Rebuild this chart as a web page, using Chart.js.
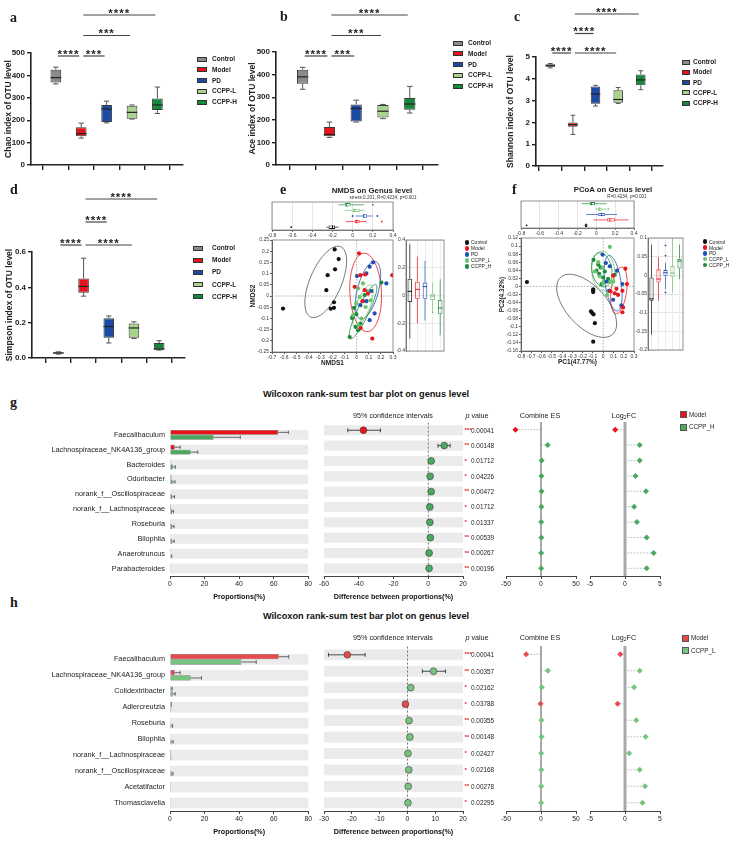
<!DOCTYPE html>
<html>
<head>
<meta charset="utf-8">
<title>Alpha diversity, ordination and Wilcoxon tests</title>
<script src="https://cdn.jsdelivr.net/npm/chart.js@4.4.1/dist/chart.umd.min.js"></script>
<style>
  html, body { margin: 0; padding: 0; background: #fff; }
  body { position: relative; width: 729px; height: 844px; overflow: hidden; font-family: "Liberation Sans", Arial, sans-serif; color: #1a1a1a; }
  canvas { position: absolute; }
  .t { position: absolute; white-space: nowrap; line-height: 1.2; }
  .sw { position: absolute; box-sizing: border-box; }
  .let { position: absolute; font-family: "Liberation Serif", "Times New Roman", serif; font-weight: bold; font-size: 14px; line-height: 1; }
  sub { font-size: 70%; vertical-align: -1px; line-height: 0; }
</style>
</head>
<body>
<script>
// ---------- data: alpha diversity (a-d) ----------
const boxGroups = ['Control', 'Model', 'PD', 'CCPP-L', 'CCPP-H'];
const boxColors = ['#8b8b8b', '#e8141c', '#1d4aa3', '#a8d48e', '#15883d'];

// [min, q1, median, q3, max]
const chaoStats = [[362, 368, 390, 425, 437], [120, 128, 140, 168, 187], [188, 192, 250, 268, 285], [205, 207, 235, 265, 268], [230, 245, 268, 297, 348]];
const aceStats = [[335, 360, 390, 422, 432], [122, 127, 135, 168, 190], [190, 192, 250, 268, 287], [205, 210, 238, 265, 268], [230, 245, 270, 297, 348]];
const shannonStats = [[4.5, 4.55, 4.6, 4.67, 4.7], [1.45, 1.8, 1.9, 2.0, 2.33], [2.75, 2.85, 3.3, 3.65, 3.7], [2.87, 2.9, 3.05, 3.48, 3.6], [3.5, 3.7, 3.95, 4.2, 4.37]];
const simpsonStats = [[0.022, 0.025, 0.028, 0.032, 0.035], [0.35, 0.37, 0.405, 0.45, 0.565], [0.085, 0.115, 0.178, 0.225, 0.238], [0.11, 0.115, 0.17, 0.195, 0.205], [0.045, 0.05, 0.05, 0.085, 0.098]];

const sigLevels = [0, 0, 1, 2];
const chaoPairs = [[0, 1], [1, 2], [1, 3], [1, 4]];
const chaoStars = ['****', '***', '***', '****'];
const acePairs = [[0, 1], [1, 2], [1, 3], [1, 4]];
const aceStars = ['****', '***', '***', '****'];
const shannonPairs = [[0, 1], [1, 3], [1, 2], [1, 4]];
const shannonStars = ['****', '****', '****', '****'];
const simpsonPairs = [[0, 1], [1, 3], [1, 2], [1, 4]];
const simpsonStars = ['****', '****', '****', '****'];

// ---------- data: ordination (e, f) ----------
const ordGroups = ['Control', 'Model', 'PD', 'CCPP_L', 'CCPP_H'];
const ordColors = ['#111111', '#e8161d', '#2150b0', '#6cc46a', '#1c8a3c'];

const nmdsControl = [[-0.609, -0.056], [-0.182, 0.208], [-0.149, 0.165], [-0.179, 0.119], [-0.24, 0.093], [-0.251, 0.026], [-0.188, -0.028], [-0.215, -0.057], [-0.188, -0.053]];
const nmdsModel = [[0.019, 0.19], [0.294, 0.093], [0.03, 0.093], [0.069, 0.096], [-0.017, 0.041], [0.066, 0.026], [0.093, 0.011], [0.047, -0.023], [0.033, -0.143], [0.129, -0.19]];
const nmdsPD = [[0.135, 0.15], [0.107, 0.131], [0.08, 0.101], [0.002, 0.089], [0.245, 0.056], [0.121, 0.022], [0.03, -0.041], [0.08, -0.023], [0.148, -0.078], [0.107, -0.108]];
const nmdsLow = [[0.052, 0.056], [0.011, 0.034], [0.093, 0.022], [0.025, -0.004], [-0.003, -0.034], [0.074, -0.049], [0.115, -0.019], [0.038, -0.101], [0.016, -0.131], [-0.031, -0.086]];
const nmdsHigh = [[0.204, 0.06], [0.066, 0.004], [0.052, -0.023], [-0.022, -0.053], [-0.003, -0.081], [-0.039, -0.098], [-0.058, -0.183], [-0.009, -0.138], [0.011, -0.153], [0.03, -0.123]];
// [cx, cy, ax, ay, bx, by]
const nmdsEllipses = [[-0.256, 0.063, 0.124, 0.157, 0.12, -0.028], [0.074, 0.016, -0.02, 0.175, 0.13, 0.01], [0.093, 0.026, 0.068, 0.127, 0.08, -0.02], [0.052, -0.045, 0.069, 0.093, 0.05, -0.015], [0.052, -0.07, 0.11, 0.12, 0.035, -0.02]];
const nmdsTop = [[-0.26, -0.24, -0.2, -0.175, -0.14], [-0.07, 0.02, 0.04, 0.07, 0.14], [0.03, 0.1, 0.11, 0.14, 0.2], [-0.08, 0.0, 0.02, 0.07, 0.12], [-0.14, -0.08, -0.06, -0.02, 0.11]];
const nmdsTopOut = [[-0.61], [0.29], [0.0, 0.245], [], [0.2]];
const nmdsRight = [[-0.31, -0.047, 0.03, 0.121, 0.37], [-0.2, -0.023, 0.044, 0.1, 0.28], [-0.18, -0.023, 0.064, 0.093, 0.25], [-0.11, -0.032, -0.004, 0.013, 0.093], [-0.287, -0.131, -0.09, -0.032, 0.117]];
const nmdsRightOut = [[], [], [], [-0.12], []];

const pcoaControl = [[-0.742, 0.011], [-0.097, -0.007], [-0.097, -0.011], [-0.097, -0.014], [-0.119, -0.062], [-0.106, -0.066], [-0.094, -0.069], [-0.081, -0.091], [-0.097, -0.137]];
const pcoaModel = [[0.216, 0.044], [0.232, 0.006], [0.187, -0.011], [0.097, 0.027], [0.145, -0.021], [0.194, -0.052], [0.187, -0.064], [0.071, -0.012], [0.113, -0.017], [0.129, -0.006]];
const pcoaPD = [[-0.006, 0.079], [0.026, 0.058], [0.065, 0.05], [0.135, 0.039], [0.187, 0.006], [0.032, 0.012], [0.058, -0.011], [0.097, -0.033], [0.177, -0.047]];
const pcoaLow = [[0.065, 0.098], [-0.048, 0.06], [-0.081, 0.037], [-0.006, 0.046], [-0.032, 0.025], [0.006, 0.012], [0.065, 0.011], [0.039, -0.021], [0.0, 0.008], [0.097, 0.012]];
const pcoaHigh = [[-0.094, 0.066], [-0.048, 0.054], [-0.026, 0.047], [-0.065, 0.039], [0.016, 0.037], [-0.039, 0.031], [0.0, 0.022], [0.048, 0.019], [-0.016, 0.006], [0.113, 0.029]];
const pcoaEllipses = [[-0.161, -0.048, 0.274, -0.064, 0.1, 0.045], [0.153, -0.01, 0.04, 0.057, 0.07, -0.01], [0.097, 0.008, -0.064, 0.064, 0.06, 0.025], [0.0, 0.038, -0.024, 0.049, 0.11, 0.005], [-0.013, 0.041, 0.095, -0.02, 0.03, 0.037]];
const pcoaTop = [[-0.125, -0.12, -0.11, -0.095, -0.09], [-0.03, 0.11, 0.144, 0.197, 0.34], [-0.11, 0.02, 0.056, 0.09, 0.22], [-0.014, 0.02, 0.03, 0.056, 0.11], [-0.155, -0.067, -0.05, -0.014, 0.11]];
const pcoaTopOut = [[-0.74], [], [], [0.127], []];
const pcoaRight = [[-0.159, -0.068, -0.063, -0.006, 0.082], [-0.068, -0.019, -0.01, 0.016, 0.049], [-0.037, -0.001, 0.007, 0.014, 0.034], [-0.046, -0.004, 0.006, 0.025, 0.1], [-0.01, 0.018, 0.038, 0.044, 0.082]];
const pcoaRightOut = [[], [], [0.08, 0.053, -0.046], [], []];

// ---------- data: Wilcoxon (g, h) ----------
const gTaxa = ['Faecalibaculum', 'Lachnospiraceae_NK4A136_group', 'Bacteroides', 'Odoribacter', 'norank_f__Oscillospiraceae', 'norank_f__Lachnospiraceae', 'Roseburia', 'Bilophila', 'Anaerotruncus', 'Parabacteroides'];
const gModel = [62.5, 2.7, 0.5, 0.8, 0.3, 0.6, 0.4, 0.2, 0.1, 0.1];
const gModelErr = [68.5, 5.9, 0.8, 1.2, 0.5, 0.9, 0.6, 0.4, 0.2, 0.2];
const gTreat = [25.2, 11.9, 1.6, 1.5, 1.3, 1.1, 1.1, 1.3, 0.5, 0.4];
const gTreatErr = [40.7, 16.1, 3.1, 2.9, 2.6, 2.0, 2.3, 2.4, 1.0, 0.8];
const gDiff = [-37.3, 9.2, 1.7, 1.1, 1.7, 0.9, 0.9, 1.2, 0.5, 0.5];
const gCiLow = [-46.3, 5.6, 0.9, 0.4, 0.8, 0.3, 0.3, 0.5, 0.2, 0.2];
const gCiHigh = [-27.5, 12.6, 2.5, 1.9, 2.6, 1.5, 1.5, 1.9, 0.8, 0.8];
const gP = [0.00041, 0.00148, 0.01712, 0.04226, 0.00472, 0.01712, 0.01337, 0.00539, 0.00267, 0.00196];
const gES = [-36.5, 9.6, 0.9, 0.6, 0.8, 0.5, 0.4, 0.5, 0.3, 0.3];
const gFC = [-1.4, 2.1, 2.1, 1.5, 3.0, 1.3, 1.7, 3.1, 4.1, 3.1];

const hTaxa = ['Faecalibaculum', 'Lachnospiraceae_NK4A136_group', 'Colidextribacter', 'Adlercreutzia', 'Roseburia', 'Bilophila', 'norank_f__Lachnospiraceae', 'norank_f__Oscillospiraceae', 'Acetatifactor', 'Thomasclavelia'];
const hModel = [62.9, 2.7, 0.8, 1.1, 0.2, 0.2, 0.6, 0.3, 0.1, 0.1];
const hModelErr = [68.7, 5.9, 1.3, 1.5, 0.4, 0.4, 0.9, 0.5, 0.2, 0.2];
const hTreat = [41.3, 11.9, 1.6, 0.6, 0.8, 0.9, 0.8, 1.0, 0.5, 0.4];
const hTreatErr = [49.9, 18.2, 3.0, 0.9, 1.5, 1.8, 1.2, 1.7, 0.9, 0.7];
const hDiff = [-21.6, 9.4, 1.2, -0.7, 0.6, 0.9, 0.2, 0.5, 0.3, 0.2];
const hCiLow = [-28.4, 5.4, 0.5, -1.1, 0.2, 0.4, 0.0, 0.2, 0.1, 0.0];
const hCiHigh = [-15.2, 13.7, 1.9, -0.3, 1.0, 1.4, 0.4, 0.8, 0.5, 0.4];
const hP = [0.00041, 0.00357, 0.02162, 0.03788, 0.00355, 0.00148, 0.02427, 0.02168, 0.00278, 0.02295];
const hES = [-21.2, 9.9, 1.2, -0.6, 0.6, 0.9, 0.3, 0.5, 0.3, 0.3];
const hFC = [-0.67, 2.1, 1.3, -1.05, 1.6, 2.95, 0.6, 2.1, 2.86, 2.5];

// ---------- setup ----------
Chart.defaults.animation = false;
Chart.defaults.responsive = false;
Chart.defaults.devicePixelRatio = 1;
Chart.defaults.font.family = '"Liberation Sans", Arial, sans-serif';
Chart.defaults.color = '#222';
Chart.defaults.plugins.legend.display = false;
Chart.defaults.plugins.tooltip.enabled = false;

const FONT = '"Liberation Sans", Arial, sans-serif';
const num = v => String(+v.toFixed(4));

function makeCanvas(left, top, w, h) {
    const c = document.createElement('canvas');
    c.width = w; c.height = h;
    c.style.left = left + 'px'; c.style.top = top + 'px';
    c.style.width = w + 'px'; c.style.height = h + 'px';
    document.body.appendChild(c);
    return c;
}

function label(html, x, y, css, center) {
    const d = document.createElement('div');
    d.className = 't';
    d.innerHTML = html;
    d.style.cssText += css || '';
    d.style.left = x + 'px'; d.style.top = y + 'px';
    d.style.transform = center ? 'translate(-50%,-50%)' : 'translate(0,-50%)';
    document.body.appendChild(d);
}

function swatch(x, y, w, h, fill, border, round) {
    const d = document.createElement('div');
    d.className = 'sw';
    d.style.cssText += `left:${x}px;top:${y}px;width:${w}px;height:${h}px;background:${fill};` +
        (border ? `border:0.8px solid ${border};` : '') + (round ? 'border-radius:50%;' : '');
    document.body.appendChild(d);
}

function letter(ch, x, baseline) {
    const d = document.createElement('div');
    d.className = 'let';
    d.textContent = ch;
    d.style.left = x + 'px';
    d.style.top = (baseline - 11.7) + 'px';
    document.body.appendChild(d);
}

// box whiskers + median + outliers drawn on top of floating bars
function whiskers(stats, w) {
    return {
        id: 'whiskers',
        afterDatasetsDraw(chart) {
            const ctx = chart.ctx;
            const bars = chart.getDatasetMeta(0).data;
            const horiz = chart.options.indexAxis === 'y';
            const vs = horiz ? chart.scales.x : chart.scales.y;
            ctx.save();
            const seg = (a1, b1, a2, b2) => {
                ctx.beginPath();
                if (horiz) { ctx.moveTo(b1, a1); ctx.lineTo(b2, a2); } else { ctx.moveTo(a1, b1); ctx.lineTo(a2, b2); }
                ctx.stroke();
            };
            stats.forEach((s, i) => {
                const b = bars[i];
                const c = horiz ? b.y : b.x;
                const half = (horiz ? b.height : b.width) / 2;
                const p = s.map(v => vs.getPixelForValue(v));
                const col = w.colors ? w.colors[i] : w.color;
                ctx.strokeStyle = col; ctx.lineWidth = w.lw;
                seg(c, p[0], c, p[1]);
                seg(c, p[3], c, p[4]);
                const cap = half * w.cap;
                if (cap > 0) { seg(c - cap, p[0], c + cap, p[0]); seg(c - cap, p[4], c + cap, p[4]); }
                ctx.strokeStyle = w.medColors ? w.medColors[i] : w.medColor;
                ctx.lineWidth = w.medLw;
                seg(c - half, p[2], c + half, p[2]);
                ctx.fillStyle = col;
                ((w.outliers && w.outliers[i]) || []).forEach(v => {
                    const q = vs.getPixelForValue(v);
                    ctx.beginPath();
                    if (horiz) ctx.arc(q, c, 0.9, 0, Math.PI * 2); else ctx.arc(c, q, 0.9, 0, Math.PI * 2);
                    ctx.fill();
                });
            });
            ctx.restore();
        }
    };
}

function sigBars(o) {
    return {
        id: 'sig',
        afterDraw(chart) {
            const ctx = chart.ctx, xs = chart.scales.x;
            ctx.save();
            ctx.strokeStyle = '#444'; ctx.lineWidth = 1.2; ctx.fillStyle = '#222';
            ctx.font = 'bold 11.5px ' + FONT; ctx.textAlign = 'center';
            ctx.letterSpacing = '1px';
            o.pairs.forEach((p, k) => {
                const y = o.sigBase - sigLevels[k] * o.sigStep;
                const x0 = xs.getPixelForValue(p[0]) + 2, x1 = xs.getPixelForValue(p[1]) - 2;
                ctx.beginPath(); ctx.moveTo(x0, y); ctx.lineTo(x1, y); ctx.stroke();
                ctx.fillText(o.stars[k], (x0 + x1) / 2, y + 1.5);
            });
            ctx.restore();
        }
    };
}

function boxPanel(o) {
    const cv = makeCanvas(o.left, o.top, o.w, o.h);
    const yTicks = { stepSize: o.yStep, font: { size: 8, weight: 'bold' }, padding: 2, color: '#222' };
    if (o.fmt) yTicks.callback = o.fmt;
    new Chart(cv, {
        type: 'bar',
        data: {
            datasets: [{
                data: o.stats.map((s, i) => ({ x: i, y: [s[1], s[3]] })),
                backgroundColor: boxColors,
                borderColor: '#3a3a3a',
                borderWidth: 1,
                borderSkipped: false,
                barPercentage: 0.42,
                categoryPercentage: 1
            }]
        },
        options: {
            layout: { padding: { left: o.padLeft, top: o.padTop, right: o.padRight, bottom: 0 } },
            scales: {
                x: {
                    type: 'linear', min: o.xMin, max: o.xMax,
                    ticks: { display: false, stepSize: 1, includeBounds: false },
                    grid: { drawOnChartArea: false, color: '#222', lineWidth: 1.4, tickLength: 5 },
                    border: { color: '#222', width: 1.6 },
                    afterFit: s => { s.height = o.xH; }
                },
                y: {
                    min: 0, max: o.yMax,
                    ticks: yTicks,
                    grid: { drawOnChartArea: false, color: '#222', lineWidth: 1.4, tickLength: 4 },
                    border: { color: '#222', width: 1.6 },
                    title: { display: true, text: o.title, color: '#222', font: { size: 8.5, weight: 'bold' }, padding: 0 },
                    afterFit: s => { s.width = o.axisW; }
                }
            }
        },
        plugins: [whiskers(o.stats, { color: '#555', lw: 1, cap: 0.5, medColor: '#222', medLw: 1.2 }), sigBars(o)]
    });
}

function boxLegend(x, y0, step, tx, sw) {
    boxGroups.forEach((g, i) => {
        const y = y0 + i * step;
        swatch(x, y - 2.5, sw, 5, boxColors[i], '#333');
        label(g, tx, y, 'font-weight:bold;font-size:6.5px;color:#222');
    });
}

// ---------- ordination helpers ----------
function frame(color) {
    return {
        id: 'frame',
        afterDraw(chart) {
            const a = chart.chartArea, ctx = chart.ctx;
            ctx.save();
            ctx.strokeStyle = color; ctx.lineWidth = 0.8;
            ctx.strokeRect(a.left, a.top, a.right - a.left, a.bottom - a.top);
            ctx.restore();
        }
    };
}

function ellipses(list) {
    return {
        id: 'ellipses',
        beforeDatasetsDraw(chart) {
            const { ctx, chartArea: a, scales: { x, y } } = chart;
            ctx.save();
            ctx.strokeStyle = '#999'; ctx.lineWidth = 0.8; ctx.setLineDash([1.5, 1.5]);
            const x0 = x.getPixelForValue(0), y0 = y.getPixelForValue(0);
            ctx.beginPath(); ctx.moveTo(x0, a.top); ctx.lineTo(x0, a.bottom); ctx.stroke();
            ctx.beginPath(); ctx.moveTo(a.left, y0); ctx.lineTo(a.right, y0); ctx.stroke();
            ctx.setLineDash([]);
            ctx.lineWidth = 0.8;
            list.forEach((e, g) => {
                ctx.strokeStyle = g === 0 ? '#555' : ordColors[g];
                ctx.beginPath();
                for (let k = 0; k <= 72; k++) {
                    const t = k / 72 * Math.PI * 2;
                    const px = x.getPixelForValue(e[0] + e[2] * Math.cos(t) + e[4] * Math.sin(t));
                    const py = y.getPixelForValue(e[1] + e[3] * Math.cos(t) + e[5] * Math.sin(t));
                    if (k === 0) ctx.moveTo(px, py); else ctx.lineTo(px, py);
                }
                ctx.stroke();
            });
            ctx.restore();
        }
    };
}

const smallTicks = (step) => ({ stepSize: step, font: { size: 5 }, color: '#333', padding: 1, autoSkip: false, maxRotation: 0, minRotation: 0, callback: num });

function ordPanel(o) {
    // main scatter
    new Chart(makeCanvas(o.main.left, o.main.top, o.main.w, o.main.h), {
        type: 'scatter',
        data: {
            datasets: o.points.map((pts, g) => ({
                data: pts.map(p => ({ x: p[0], y: p[1] })),
                backgroundColor: ordColors[g], borderWidth: 0, pointRadius: 2.1
            }))
        },
        options: {
            layout: { padding: { left: 3, top: 4, right: 9, bottom: 0 } },
            scales: {
                x: {
                    min: o.xMin, max: o.xMax, ticks: smallTicks(0.1),
                    grid: { drawOnChartArea: false, color: '#555', tickLength: 2 },
                    border: { color: '#555' },
                    title: { display: true, text: o.xTitle, font: { size: 6.5, weight: 'bold' }, padding: 0, color: '#222' },
                    afterFit: s => { s.height = 15; }
                },
                y: {
                    min: o.yMin, max: o.yMax, ticks: smallTicks(o.yStep),
                    grid: { drawOnChartArea: false, color: '#555', tickLength: 2 },
                    border: { color: '#555' },
                    title: { display: true, text: o.yTitle, font: { size: 6.5, weight: 'bold' }, padding: 0, color: '#222' },
                    afterFit: s => { s.width = 23; }
                }
            }
        },
        plugins: [ellipses(o.ellipses), frame('#777')]
    });

    // top marginal boxplot (first axis)
    new Chart(makeCanvas(o.top.left, o.top.top, o.top.w, o.top.h), {
        type: 'bar',
        data: {
            labels: ordGroups,
            datasets: [{
                data: o.topStats.map(s => [s[1], s[3]]),
                backgroundColor: 'rgba(255,255,255,0)', borderColor: ordColors, borderWidth: 0.8,
                borderSkipped: false, barPercentage: 0.6, categoryPercentage: 1
            }]
        },
        options: {
            indexAxis: 'y',
            layout: { padding: { left: 10, top: 3, right: 9, bottom: 0 } },
            scales: {
                x: {
                    min: -0.8, max: 0.4, ticks: smallTicks(0.2),
                    grid: { color: '#e6e6e6', tickColor: '#777', tickLength: 2 },
                    border: { color: '#777' },
                    afterFit: s => { s.height = 9; }
                },
                y: { reverse: true, display: false }
            }
        },
        plugins: [whiskers(o.topStats, { colors: ordColors, lw: 0.7, cap: 0, medColors: ordColors, medLw: 1, outliers: o.topOut }), frame('#777')]
    });

    // right marginal boxplot (second axis)
    new Chart(makeCanvas(o.right.left, o.right.top, o.right.w, o.right.h), {
        type: 'bar',
        data: {
            labels: ordGroups,
            datasets: [{
                data: o.rightStats.map(s => [s[1], s[3]]),
                backgroundColor: 'rgba(255,255,255,0)', borderColor: ordColors, borderWidth: 0.8,
                borderSkipped: false, barPercentage: 0.6, categoryPercentage: 1
            }]
        },
        options: {
            layout: { padding: { left: 0, top: 4, right: 2, bottom: 3 } },
            scales: {
                x: {
                    ticks: { display: false },
                    grid: { color: '#ececec', offset: false, drawTicks: false },
                    border: { display: false },
                    afterFit: s => { s.height = 0; }
                },
                y: {
                    min: o.rMin, max: o.rMax, ticks: smallTicks(o.rStep),
                    grid: { color: '#e6e6e6', drawTicks: false },
                    border: { color: '#777' },
                    afterFit: s => { s.width = o.right.axisW; }
                }
            }
        },
        plugins: [whiskers(o.rightStats, { colors: ordColors, lw: 0.7, cap: 0, medColors: ordColors, medLw: 1, outliers: o.rightOut }), frame('#777')]
    });
}

function ordLegend(x, y0, step) {
    ordGroups.forEach((g, i) => {
        const y = y0 + i * step;
        swatch(x - 2.4, y - 2.4, 4.8, 4.8, ordColors[i], null, true);
        label(g, x + 4, y, 'font-size:5px;color:#222');
    });
}

// ---------- Wilcoxon helpers ----------
function bands() {
    return {
        id: 'bands',
        beforeDatasetsDraw(chart) {
            const { ctx, chartArea: a, scales: { y } } = chart;
            const n = y.getLabels().length;
            const row = (a.bottom - a.top) / n;
            ctx.save();
            ctx.fillStyle = '#ebebeb';
            for (let i = 0; i < n; i++) {
                const yy = y.getPixelForValue(i);
                ctx.fillRect(a.left, yy - row * 0.33, a.right - a.left, row * 0.66);
            }
            ctx.restore();
        }
    };
}

function errBars(errs) {
    return {
        id: 'errBars',
        afterDatasetsDraw(chart) {
            const { ctx, scales: { x } } = chart;
            ctx.save();
            ctx.strokeStyle = '#444'; ctx.lineWidth = 0.8;
            errs.forEach((list, d) => {
                chart.getDatasetMeta(d).data.forEach((b, i) => {
                    const xe = x.getPixelForValue(list[i]);
                    if (xe - b.x < 0.8) return;
                    ctx.beginPath(); ctx.moveTo(b.x, b.y); ctx.lineTo(xe, b.y); ctx.stroke();
                    ctx.beginPath(); ctx.moveTo(xe, b.y - b.height * 0.35); ctx.lineTo(xe, b.y + b.height * 0.35); ctx.stroke();
                });
            });
            ctx.restore();
        }
    };
}

function ciDraw(o) {
    return {
        id: 'ci',
        beforeDatasetsDraw(chart) {
            const { ctx, chartArea: a, scales: { x, y } } = chart;
            ctx.save();
            const x0 = x.getPixelForValue(0);
            ctx.strokeStyle = '#555'; ctx.lineWidth = 0.8; ctx.setLineDash([2, 2]);
            ctx.beginPath(); ctx.moveTo(x0, a.top); ctx.lineTo(x0, a.bottom); ctx.stroke();
            ctx.setLineDash([]);
            ctx.strokeStyle = '#222'; ctx.lineWidth = 0.8;
            o.lo.forEach((lo, i) => {
                const yy = y.getPixelForValue(i);
                const p0 = x.getPixelForValue(lo), p1 = x.getPixelForValue(o.hi[i]);
                ctx.beginPath(); ctx.moveTo(p0, yy); ctx.lineTo(p1, yy); ctx.stroke();
                ctx.beginPath(); ctx.moveTo(p0, yy - 2); ctx.lineTo(p0, yy + 2); ctx.moveTo(p1, yy - 2); ctx.lineTo(p1, yy + 2); ctx.stroke();
            });
            ctx.restore();
        },
        afterDraw(chart) {
            const { ctx, chartArea: a, scales: { y } } = chart;
            ctx.save();
            ctx.textBaseline = 'middle'; ctx.textAlign = 'left';
            o.p.forEach((p, i) => {
                const yy = y.getPixelForValue(i);
                const stars = p < 0.001 ? '***' : p < 0.01 ? '**' : '*';
                ctx.fillStyle = '#e8141b'; ctx.font = 'bold 6px ' + FONT;
                ctx.fillText(stars, a.right + 1.5, yy);
                ctx.fillStyle = '#222'; ctx.font = '6.4px ' + FONT;
                ctx.fillText(p.toFixed(5), a.right + 8, yy + 0.5);
            });
            ctx.restore();
        }
    };
}

function lolli(values, zeroColor, zeroWidth) {
    return {
        id: 'lolli',
        beforeDatasetsDraw(chart) {
            const { ctx, chartArea: a, scales: { x, y } } = chart;
            const x0 = x.getPixelForValue(0);
            ctx.save();
            ctx.strokeStyle = '#9a9a9a'; ctx.lineWidth = 0.7; ctx.setLineDash([1.5, 1.5]);
            values.forEach((v, i) => {
                const yy = y.getPixelForValue(i);
                ctx.beginPath(); ctx.moveTo(x0, yy); ctx.lineTo(x.getPixelForValue(v), yy); ctx.stroke();
            });
            ctx.setLineDash([]);
            ctx.strokeStyle = zeroColor; ctx.lineWidth = zeroWidth;
            ctx.beginPath(); ctx.moveTo(x0, a.top); ctx.lineTo(x0, a.bottom); ctx.stroke();
            ctx.restore();
        }
    };
}

function wilcoxPanel(o) {
    const ct = o.top - 3;
    const ch = o.bottom + 25 - ct;
    const xAxis = (min, max, step, title) => ({
        min, max,
        ticks: { stepSize: step, color: '#222', font: { size: 6.8 }, padding: 1, maxRotation: 0, autoSkip: false },
        grid: { drawOnChartArea: false, color: '#444', tickLength: 3 },
        border: { color: '#444' },
        title: { display: !!title, text: title || '', color: '#111', font: { size: 7.2, weight: 'bold' }, padding: 0 },
        afterFit: s => { s.height = 25; }
    });
    const hiddenY = { type: 'category', offset: true, display: false };
    const signCol = v => v < 0 ? o.red : o.green;

    // proportions
    new Chart(makeCanvas(40, ct, 273, ch), {
        type: 'bar',
        data: {
            labels: o.taxa,
            datasets: [
                { data: o.model, backgroundColor: o.red, borderColor: '#444', borderWidth: 0.5, borderSkipped: false, categoryPercentage: 0.66, barPercentage: 1 },
                { data: o.treat, backgroundColor: o.green, borderColor: '#444', borderWidth: 0.5, borderSkipped: false, categoryPercentage: 0.66, barPercentage: 1 }
            ]
        },
        options: {
            indexAxis: 'y',
            layout: { padding: { left: 0, top: 3, right: 4, bottom: 0 } },
            scales: {
                x: xAxis(0, 80, 20, 'Proportions(%)'),
                y: {
                    ticks: { font: { size: 7.3 }, color: '#222', padding: 5 },
                    grid: { display: false, drawTicks: false },
                    border: { display: false },
                    afterFit: s => { s.width = 130; }
                }
            }
        },
        plugins: [bands(), errBars([o.modelErr, o.treatErr])]
    });

    // confidence intervals + p values
    new Chart(makeCanvas(318, ct, 190, ch), {
        type: 'scatter',
        data: {
            labels: o.taxa,
            datasets: [{
                data: o.diff.map((v, i) => ({ x: v, y: o.taxa[i] })),
                backgroundColor: o.diff.map(signCol), borderColor: '#3a3a3a', borderWidth: 0.6, pointRadius: 3.4
            }]
        },
        options: {
            layout: { padding: { left: 6, top: 3, right: 45, bottom: 0 } },
            scales: { x: xAxis(o.dMin, 20, o.dStep, 'Difference between proportions(%)'), y: hiddenY }
        },
        plugins: [bands(), ciDraw({ lo: o.lo, hi: o.hi, p: o.p })]
    });

    // combined effect size
    new Chart(makeCanvas(500, ct, 82, ch), {
        type: 'scatter',
        data: {
            labels: o.taxa,
            datasets: [{
                data: o.es.map((v, i) => ({ x: v, y: o.taxa[i] })),
                backgroundColor: o.diff.map(signCol), borderWidth: 0, pointStyle: 'rectRot', pointRadius: 3
            }]
        },
        options: {
            layout: { padding: { left: 6, top: 3, right: 6, bottom: 0 } },
            scales: { x: xAxis(-50, 50, 50), y: hiddenY }
        },
        plugins: [lolli(o.es, '#555', 1)]
    });

    // log2 fold change
    new Chart(makeCanvas(584, ct, 82, ch), {
        type: 'scatter',
        data: {
            labels: o.taxa,
            datasets: [{
                data: o.fc.map((v, i) => ({ x: v, y: o.taxa[i] })),
                backgroundColor: o.diff.map(signCol), borderWidth: 0, pointStyle: 'rectRot', pointRadius: 3
            }]
        },
        options: {
            layout: { padding: { left: 6, top: 3, right: 6, bottom: 0 } },
            scales: { x: xAxis(-5, 5, 5), y: hiddenY }
        },
        plugins: [lolli(o.fc, '#a8a8a8', 3)]
    });

    const hy = o.headY;
    label('Wilcoxon rank-sum test bar plot on genus level', 366, o.titleY, 'font-weight:bold;font-size:9.2px;color:#111', true);
    label('95% confidence intervals', 393, hy, 'font-size:7.2px;color:#222', true);
    label('<i>p</i> value', 477, hy, 'font-size:7.2px;color:#222', true);
    label('Combine ES', 540, hy, 'font-size:7.2px;color:#222', true);
    label('Log<sub>2</sub>FC', 624, hy, 'font-size:7.2px;color:#222', true);
    swatch(o.legX, o.legY - 3.5, 7, 7, o.red, '#555');
    label('Model', o.legX + 9, o.legY, 'font-size:6.3px;color:#222');
    swatch(o.legX, o.legY + 12.5 - 3.5, 7, 7, o.green, '#555');
    label(o.treatName, o.legX + 9, o.legY + 12.5, 'font-size:6.3px;color:#222');
}

// ---------- build ----------
boxPanel({ left: 0, top: 0, w: 240, h: 185, padLeft: 4, axisW: 27, padTop: 53, padRight: 57, xH: 20, xMin: -0.38, xMax: 4.41, yMax: 500, yStep: 100,
    title: 'Chao index of OTU level', stats: chaoStats, pairs: chaoPairs, stars: chaoStars, sigBase: 56, sigStep: 20.5 });
boxPanel({ left: 240, top: 0, w: 240, h: 185, padLeft: 8, axisW: 28, padTop: 52, padRight: 42, xH: 20, xMin: -0.39, xMax: 4.45, yMax: 500, yStep: 100,
    title: 'Ace index of OTU level', stats: aceStats, pairs: acePairs, stars: aceStars, sigBase: 56, sigStep: 20.5 });
boxPanel({ left: 480, top: 0, w: 249, h: 185, padLeft: 26, axisW: 30, padTop: 57, padRight: 66, xH: 19, xMin: -0.07, xMax: 4.42, yMax: 5, yStep: 1,
    title: 'Shannon index of OTU level', stats: shannonStats, pairs: shannonPairs, stars: shannonStars, sigBase: 53, sigStep: 19.5 });
boxPanel({ left: 0, top: 185, w: 240, h: 190, padLeft: 5, axisW: 27, padTop: 67, padRight: 55, xH: 17, xMin: -0.44, xMax: 4.42, yMax: 0.6, yStep: 0.2,
    fmt: v => v.toFixed(1), title: 'Simpson index of OTU level', stats: simpsonStats, pairs: simpsonPairs, stars: simpsonStars, sigBase: 60, sigStep: 23 });

boxLegend(197, 59, 10.75, 212, 10);
boxLegend(453, 43, 10.75, 468, 10);
boxLegend(682, 62, 10.3, 693, 8);
boxLegend(193, 248, 12.2, 212, 10);

ordPanel({
    main: { left: 246, top: 236, w: 156, h: 131 },
    top: { left: 262, top: 199, w: 140, h: 40 },
    right: { left: 390, top: 236, w: 56, h: 119, axisW: 16 },
    points: [nmdsControl, nmdsModel, nmdsPD, nmdsLow, nmdsHigh], ellipses: nmdsEllipses,
    xMin: -0.7, xMax: 0.3, yMin: -0.25, yMax: 0.25, yStep: 0.05, xTitle: 'NMDS1', yTitle: 'NMDS2',
    topStats: nmdsTop, topOut: nmdsTopOut, rightStats: nmdsRight, rightOut: nmdsRightOut, rMin: -0.4, rMax: 0.4, rStep: 0.2
});
ordPanel({
    main: { left: 495, top: 234, w: 148, h: 132 },
    top: { left: 511, top: 198, w: 132, h: 39 },
    right: { left: 630, top: 234, w: 55, h: 120, axisW: 18 },
    points: [pcoaControl, pcoaModel, pcoaPD, pcoaLow, pcoaHigh], ellipses: pcoaEllipses,
    xMin: -0.8, xMax: 0.3, yMin: -0.16, yMax: 0.12, yStep: 0.02, xTitle: 'PC1(47.77%)', yTitle: 'PC2(4.32%)',
    topStats: pcoaTop, topOut: pcoaTopOut, rightStats: pcoaRight, rightOut: pcoaRightOut, rMin: -0.2, rMax: 0.1, rStep: 0.05
});
label('NMDS on Genus level', 372, 191, 'font-weight:bold;font-size:7.8px;color:#222', true);
label('stress:0.201, R=0.4234, p=0.001', 383, 198, 'font-size:4.6px;color:#333', true);
label('PCoA on Genus level', 613, 190, 'font-weight:bold;font-size:7.8px;color:#222', true);
label('R=0.4234, <i>p</i>=0.001', 627, 197, 'font-size:4.6px;color:#333', true);
ordLegend(467, 242.3, 6);
ordLegend(705, 241.7, 5.8);

wilcoxPanel({ top: 421, bottom: 576, taxa: gTaxa, model: gModel, modelErr: gModelErr, treat: gTreat, treatErr: gTreatErr,
    diff: gDiff, lo: gCiLow, hi: gCiHigh, p: gP, es: gES, fc: gFC, dMin: -60, dStep: 20,
    red: '#e8141b', green: '#4aa85f', treatName: 'CCPP_H', titleY: 395, headY: 416, legX: 680, legY: 414.5 });
wilcoxPanel({ top: 645, bottom: 811, taxa: hTaxa, model: hModel, modelErr: hModelErr, treat: hTreat, treatErr: hTreatErr,
    diff: hDiff, lo: hCiLow, hi: hCiHigh, p: hP, es: hES, fc: hFC, dMin: -30, dStep: 10,
    red: '#e34b4f', green: '#77c47e', treatName: 'CCPP_L', titleY: 617, headY: 638, legX: 682, legY: 638 });

letter('a', 10, 23);
letter('b', 280, 22);
letter('c', 514, 22);
letter('d', 10, 195);
letter('e', 280, 195);
letter('f', 512, 195);
letter('g', 10, 408);
letter('h', 10, 608);
</script>
</body>
</html>
